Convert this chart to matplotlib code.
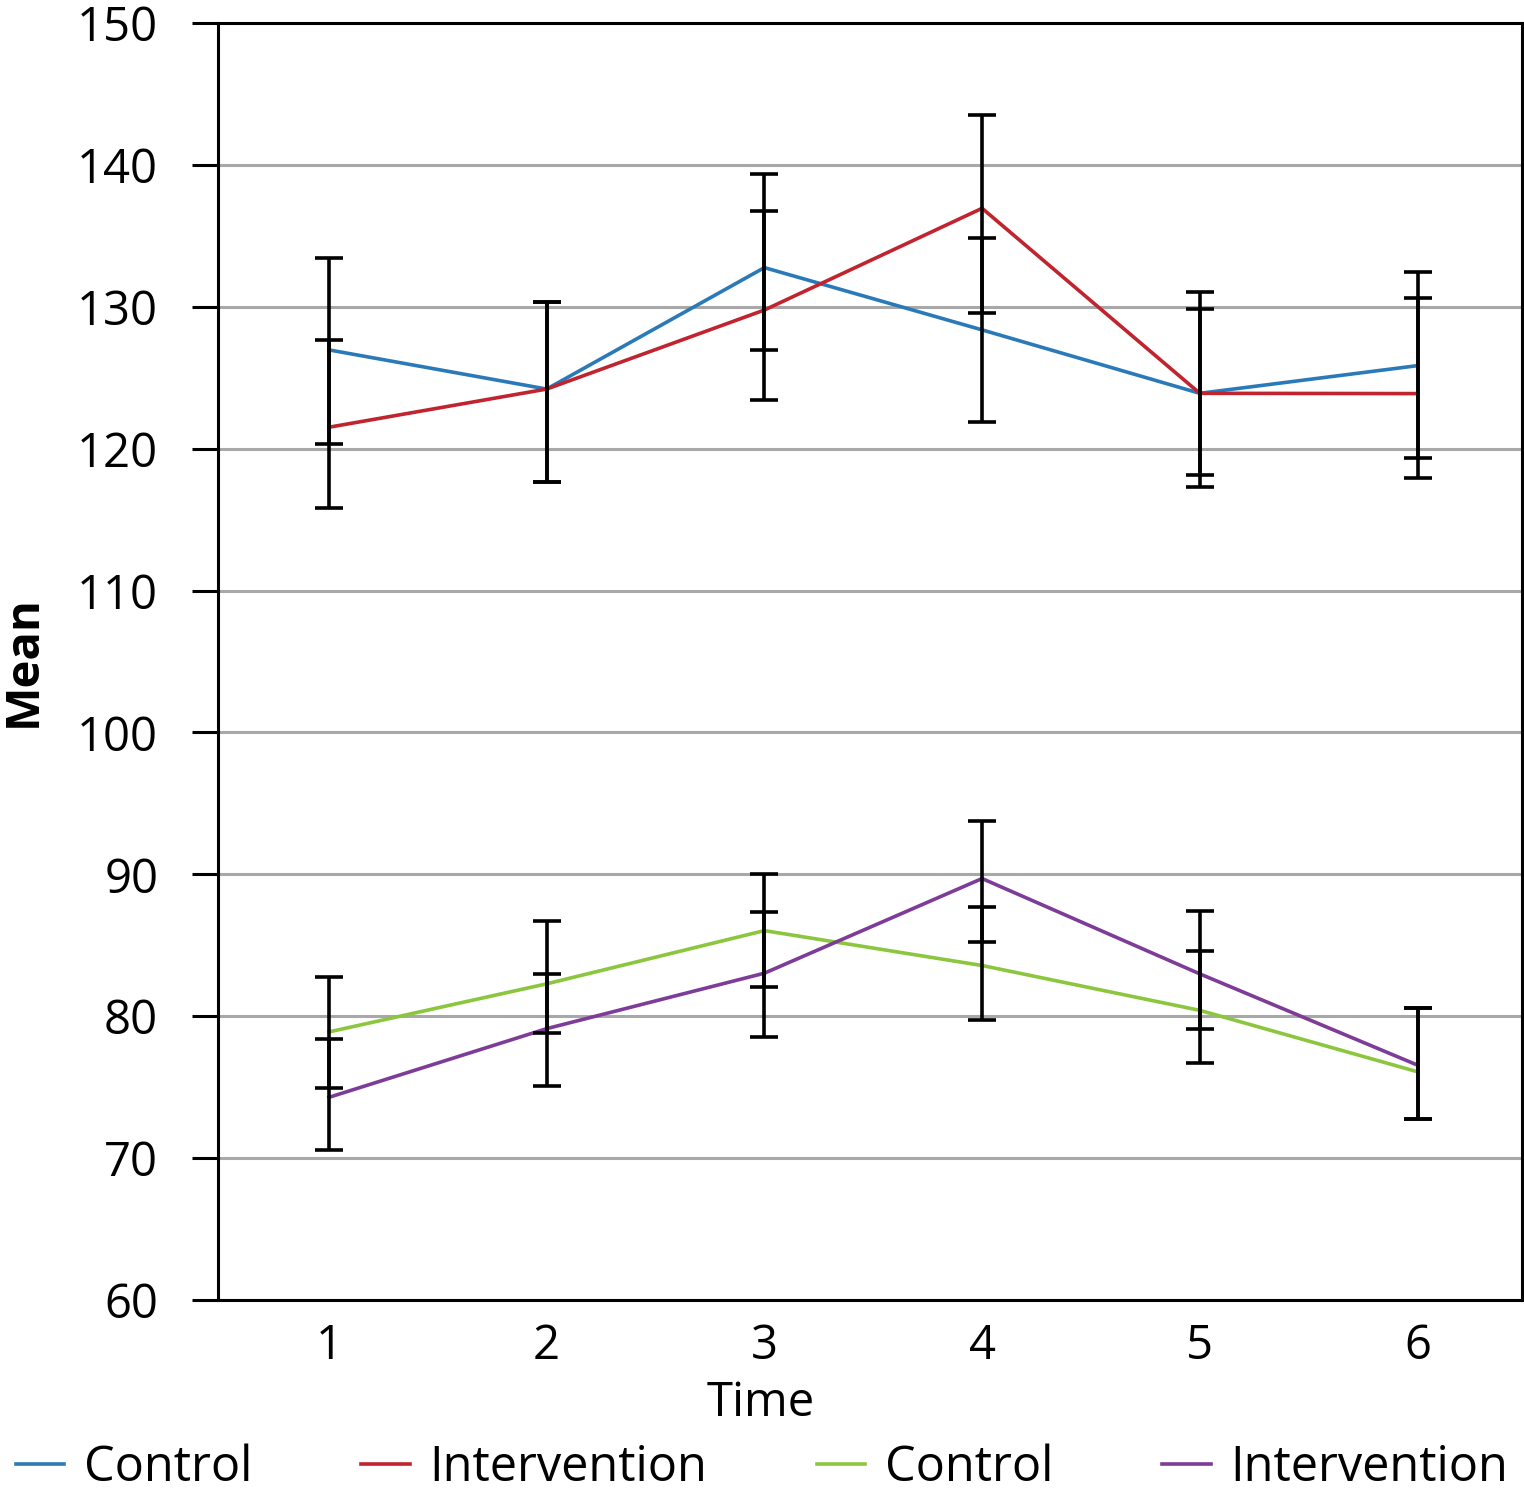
import numpy as np
import matplotlib
matplotlib.use("Agg")
import matplotlib.pyplot as plt

plt.rcParams['font.family'] = ['Open Sans', 'DejaVu Sans']

time = [1, 2, 3, 4, 5, 6]

# upper pair of series
ctrl_a = [126.96, 124.2, 132.76, 128.37, 123.9, 125.85]
ctrl_a_hi = [133.42, 130.36, 139.34, 134.83, 131.02, 132.45]
ctrl_a_lo = [120.33, 117.63, 126.96, 121.9, 117.28, 119.37]

int_a = [121.51, 124.2, 129.77, 136.94, 123.9, 123.88]
int_a_hi = [127.66, 130.36, 136.73, 143.52, 129.84, 130.6]
int_a_lo = [115.8, 117.63, 123.43, 129.54, 118.15, 117.94]

# lower pair of series
ctrl_b = [78.89, 82.28, 86.03, 83.57, 80.41, 76.08]
ctrl_b_hi = [82.75, 86.73, 90.05, 87.71, 84.62, 80.58]
ctrl_b_lo = [74.91, 78.84, 82.05, 79.71, 76.67, 72.72]

int_b = [74.28, 79.12, 83.03, 89.70, 82.98, 76.55]
int_b_hi = [78.42, 82.98, 87.36, 93.75, 87.43, 80.58]
int_b_lo = [70.54, 75.10, 78.54, 85.21, 79.08, 72.72]

labels = ["Control", "Intervention", "Control", "Intervention"]
colors = ['#2a7ab9', '#c1232f', '#8cc63f', '#7d3c98']
yticks = [60, 70, 80, 90, 100, 110, 120, 130, 140, 150]

series = [(ctrl_a, ctrl_a_lo, ctrl_a_hi), (int_a, int_a_lo, int_a_hi),
          (ctrl_b, ctrl_b_lo, ctrl_b_hi), (int_b, int_b_lo, int_b_hi)]

fig = plt.figure(figsize=(15.24, 14.94), dpi=100)
ax = fig.add_axes([0.1430, 0.1299, 0.8557, 0.8547])

handles = []
for (m, lo, hi), lab, c in zip(series, labels, colors):
    m = np.array(m)
    err = [m - np.array(lo), np.array(hi) - m]
    h, = ax.plot(time, m, color=c, lw=2.6, label=lab, zorder=3)
    ax.errorbar(time, m, yerr=err, fmt='none', ecolor='black', elinewidth=2.6,
                capsize=10, capthick=2.6, zorder=4)
    handles.append(h)

ax.set_xlim(0.49, 6.48)
ax.set_ylim(60, 150)
ax.set_yticks(yticks)
ax.set_xticks(time)
ax.grid(axis='y', color='#a8a8a8', lw=2.2, zorder=1)
ax.set_axisbelow(True)
for s in ax.spines.values():
    s.set_linewidth(2.2)
    s.set_color('black')
ax.tick_params(axis='y', length=19, width=2.2, pad=24, labelsize=34)
ax.tick_params(axis='x', length=0, pad=16, labelsize=34)

ax.set_xlabel("Time", fontsize=34)
ax.xaxis.set_label_coords(0.4164, -0.062)
ax.set_ylabel("Mean", fontsize=34, fontweight='bold', labelpad=22)

fig.legend(handles=handles, labels=labels, loc='center', bbox_to_anchor=(0.5, 0.0175),
           ncol=4, frameon=False, fontsize=35, handlelength=1.0, handletextpad=0.4,
           columnspacing=2.25, borderpad=0.1)

fig.savefig("out.png", dpi=100)
